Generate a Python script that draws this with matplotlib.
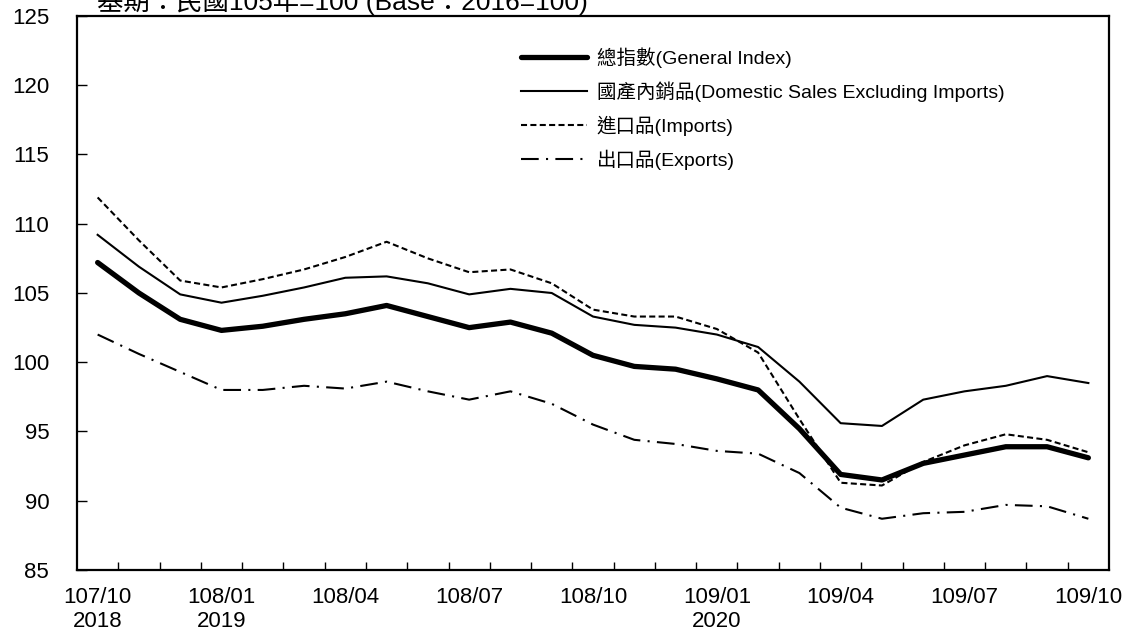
import matplotlib
matplotlib.use("Agg")
import matplotlib.pyplot as plt

plt.rcParams['font.family'] = ['Liberation Sans', 'Noto Sans CJK TC', 'DejaVu Sans']

# months 107/10 (2018-10) .. 109/10 (2020-10)
months = list(range(25))
tick_pos = [0, 3, 6, 9, 12, 15, 18, 21, 24]
tick_labels = ['107/10\n2018', '108/01\n2019', '108/04', '108/07', '108/10',
               '109/01\n2020', '109/04', '109/07', '109/10']

general = [107.2, 105.0, 103.1, 102.3, 102.6, 103.1, 103.5, 104.1, 103.3, 102.5,
           102.9, 102.1, 100.5, 99.7, 99.5, 98.8, 98.0, 95.2, 91.9, 91.5,
           92.7, 93.3, 93.9, 93.9, 93.1]
domestic = [109.2, 106.9, 104.9, 104.3, 104.8, 105.4, 106.1, 106.2, 105.7, 104.9,
            105.3, 105.0, 103.3, 102.7, 102.5, 102.0, 101.1, 98.6, 95.6, 95.4,
            97.3, 97.9, 98.3, 99.0, 98.5]
imports = [111.9, 108.8, 105.9, 105.4, 106.0, 106.7, 107.6, 108.7, 107.5, 106.5,
           106.7, 105.7, 103.8, 103.3, 103.3, 102.4, 100.7, 95.9, 91.3, 91.1,
           92.8, 94.0, 94.8, 94.4, 93.5]
exports = [102.0, 100.6, 99.3, 98.0, 98.0, 98.3, 98.1, 98.6, 97.9, 97.3,
           97.9, 97.0, 95.5, 94.4, 94.1, 93.6, 93.4, 92.0, 89.5, 88.7,
           89.1, 89.2, 89.7, 89.6, 88.7]

labels = ['總指數(General Index)',
          '國產內銷品(Domestic Sales Excluding Imports)',
          '進口品(Imports)',
          '出口品(Exports)']

fig = plt.figure(figsize=(11.25, 6.32), dpi=100)
ax = fig.add_axes([77/1125, 1-570/632, (1109-77)/1125, (570-16)/632])

ax.plot(months, general, color='black', lw=3.8, solid_capstyle='round', label=labels[0])
ax.plot(months, domestic, color='black', lw=1.5, label=labels[1])
ax.plot(months, imports, color='black', lw=1.5, dashes=(2.9, 1.6), label=labels[2])
ax.plot(months, exports, color='black', lw=1.5, dashes=(8.5, 3.5, 1, 3.5), label=labels[3])

ax.set_xlim(-0.5, 24.5)
ax.set_ylim(85, 125)
ax.set_yticks(range(85, 126, 5))
ax.set_xticks(tick_pos)
ax.set_xticklabels(tick_labels)
ax.set_xticks([m + 0.5 for m in months[:-1]], minor=True)

ax.tick_params(axis='x', which='major', length=0, labelsize=16, pad=12)
ax.tick_params(axis='x', which='minor', direction='in', length=6, width=1)
ax.tick_params(axis='y', direction='in', length=7, width=1, labelsize=16, pad=20)

for side in ['left', 'bottom', 'right', 'top']:
    ax.spines[side].set_linewidth(1.6)

fig.text(97/1125, 1-10/632, '基期：民國105年=100 (Base：2016=100)',
         fontsize=19, va='baseline', ha='left')

ax.legend(loc='upper left', bbox_to_anchor=(521/1125, 1-47/632),
          bbox_transform=fig.transFigure, frameon=False, fontsize=14,
          handlelength=3.4, handletextpad=0.5, labelspacing=0.7,
          borderpad=0, borderaxespad=0)

fig.savefig('out.png', dpi=100)
